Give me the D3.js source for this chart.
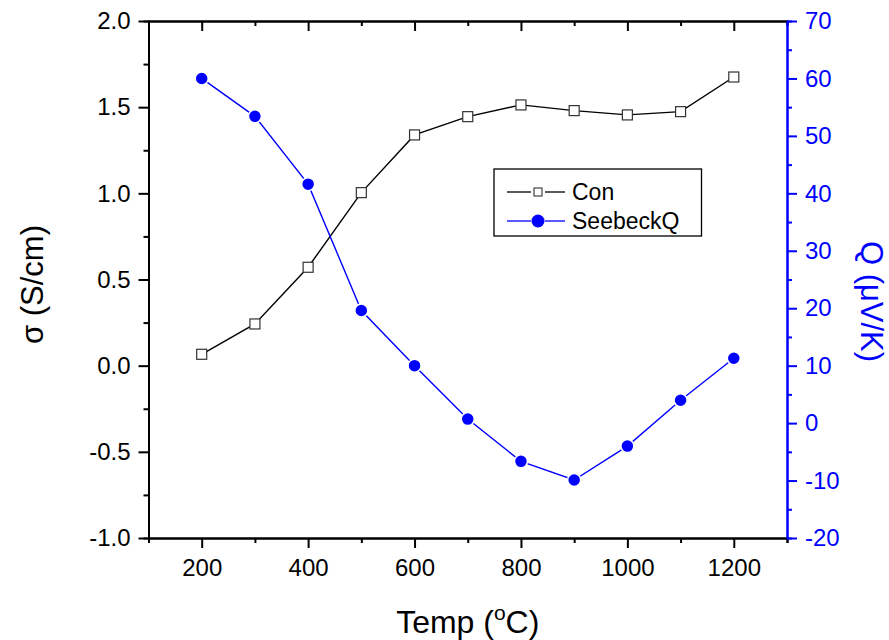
<!DOCTYPE html>
<html>
<head>
<meta charset="utf-8">
<script src="https://cdn.jsdelivr.net/npm/d3@7"></script>
<style>
  html, body { margin: 0; padding: 0; background: #fff; }
  svg { display: block; font-family: "Liberation Sans", Arial, sans-serif; }
</style>
</head>
<body>
<svg id="chart" width="889" height="640"></svg>
<script>
// Temperature points (°C)
const temps = [200, 300, 400, 500, 600, 700, 800, 900, 1000, 1100, 1200];
// Electrical conductivity σ (S/cm)
const conValues = [0.066, 0.242, 0.571, 1.004, 1.339, 1.445, 1.513, 1.480, 1.455, 1.474, 1.675];
// Seebeck coefficient Q (µV/K)
const seebeckValues = [60.0, 53.4, 41.6, 19.6, 10.0, 0.7, -6.65, -9.9, -4.0, 3.97, 11.3];

const xMajorTicks = [200, 400, 600, 800, 1000, 1200];
const xMinorTicks = [100, 300, 500, 700, 900, 1100, 1300];
const yLeftMajor = [-1.0, -0.5, 0.0, 0.5, 1.0, 1.5, 2.0];
const yLeftMinor = [-0.75, -0.25, 0.25, 0.75, 1.25, 1.75];
const yRightMajor = [-20, -10, 0, 10, 20, 30, 40, 50, 60, 70];
const yRightMinor = [-15, -5, 5, 15, 25, 35, 45, 55, 65];

const BLUE = "#0000ff";
const svg = d3.select("#chart");
const m = { left: 148.5, right: 787, top: 21, bottom: 538 };

const x = d3.scaleLinear().domain([100, 1300]).range([m.left, m.right]);
const yL = d3.scaleLinear().domain([-1, 2]).range([m.bottom, m.top]);
const yR = d3.scaleLinear().domain([-20, 70]).range([m.bottom, m.top]);

const tickFont = 24;
const axisStroke = 2;

function styleAxis(g, color) {
  g.select(".domain").attr("stroke", color).attr("stroke-width", axisStroke);
  g.selectAll(".tick line").attr("stroke", color).attr("stroke-width", axisStroke);
  g.selectAll(".tick text").attr("fill", color).attr("font-size", tickFont)
    .attr("font-family", "Liberation Sans, Arial, sans-serif");
}

// Bottom axis
const gxMinor = svg.append("g").attr("transform", `translate(0,${m.bottom})`)
  .call(d3.axisBottom(x).tickValues(xMinorTicks).tickSize(5).tickFormat(""));
styleAxis(gxMinor, "#000");
const gx = svg.append("g").attr("transform", `translate(0,${m.bottom})`)
  .call(d3.axisBottom(x).tickValues(xMajorTicks).tickSize(10).tickSizeOuter(0).tickPadding(11).tickFormat(d3.format("d")));
styleAxis(gx, "#000");

// Top axis (ticks pointing inward)
const gtMinor = svg.append("g").attr("transform", `translate(0,${m.top})`)
  .call(d3.axisTop(x).tickValues(xMinorTicks).tickSize(-5).tickFormat(""));
styleAxis(gtMinor, "#000");
const gt = svg.append("g").attr("transform", `translate(0,${m.top})`)
  .call(d3.axisTop(x).tickValues(xMajorTicks).tickSize(-10).tickSizeOuter(0).tickFormat(""));
styleAxis(gt, "#000");

// Left axis
const glMinor = svg.append("g").attr("transform", `translate(${m.left},0)`)
  .call(d3.axisLeft(yL).tickValues(yLeftMinor).tickSize(5).tickFormat(""));
styleAxis(glMinor, "#000");
const gl = svg.append("g").attr("transform", `translate(${m.left},0)`)
  .call(d3.axisLeft(yL).tickValues(yLeftMajor).tickSize(10).tickSizeOuter(0).tickPadding(8).tickFormat(d3.format(".1f")));
styleAxis(gl, "#000");
gl.selectAll(".tick text").text(d => d3.format(".1f")(d).replace("−", "-"));

// Right axis (blue)
const grMinor = svg.append("g").attr("transform", `translate(${m.right},0)`)
  .call(d3.axisRight(yR).tickValues(yRightMinor).tickSize(5).tickFormat(""));
styleAxis(grMinor, BLUE);
const gr = svg.append("g").attr("transform", `translate(${m.right},0)`)
  .call(d3.axisRight(yR).tickValues(yRightMajor).tickSize(10).tickSizeOuter(0).tickPadding(8).tickFormat(d3.format("d")));
styleAxis(gr, BLUE);
gr.selectAll(".tick text").text(d => String(d));

// Axis titles
const xTitle = svg.append("text")
  .attr("x", (m.left + m.right) / 2).attr("y", 633)
  .attr("text-anchor", "middle").attr("font-size", 32);
xTitle.append("tspan").text("Temp (");
xTitle.append("tspan").attr("dy", -13).attr("font-size", 21).text("o");
xTitle.append("tspan").attr("dy", 13).text("C)");

svg.append("text")
  .attr("transform", `translate(43,${(m.top + m.bottom) / 2 + 5}) rotate(-90)`)
  .attr("text-anchor", "middle").attr("font-size", 31)
  .text("σ (S/cm)");

svg.append("text")
  .attr("transform", `translate(861,${(m.top + m.bottom) / 2 + 22}) rotate(90)`)
  .attr("text-anchor", "middle").attr("font-size", 31).attr("fill", BLUE)
  .text("Q (μV/K)");

// Series
const conData = temps.map((t, i) => ({ t, v: conValues[i] }));
const seeData = temps.map((t, i) => ({ t, v: seebeckValues[i] }));

svg.append("path").datum(conData)
  .attr("fill", "none").attr("stroke", "#000").attr("stroke-width", 1.4)
  .attr("d", d3.line().x(d => x(d.t)).y(d => yL(d.v)));

svg.append("path").datum(seeData)
  .attr("fill", "none").attr("stroke", BLUE).attr("stroke-width", 1.4)
  .attr("d", d3.line().x(d => x(d.t)).y(d => yR(d.v)));

svg.append("g").selectAll("rect").data(conData).join("rect")
  .attr("x", d => x(d.t) - 5).attr("y", d => yL(d.v) - 5)
  .attr("width", 10).attr("height", 10)
  .attr("fill", "#fff").attr("stroke", "#333").attr("stroke-width", 1.2);

svg.append("g").selectAll("circle").data(seeData).join("circle")
  .attr("cx", d => x(d.t)).attr("cy", d => yR(d.v)).attr("r", 6.5)
  .attr("fill", BLUE).attr("stroke", "#fff").attr("stroke-width", 1.5);

// Legend
const lg = svg.append("g");
lg.append("rect").attr("x", 494).attr("y", 169).attr("width", 207.5).attr("height", 67)
  .attr("fill", "#fff").attr("stroke", "#000").attr("stroke-width", 1.3);
const legendItems = [
  { name: "Con", color: "#000", y: 192, marker: "square" },
  { name: "SeebeckQ", color: BLUE, y: 221, marker: "circle" }
];
legendItems.forEach(it => {
  lg.append("line").attr("x1", 507).attr("x2", 531).attr("y1", it.y).attr("y2", it.y)
    .attr("stroke", it.color).attr("stroke-width", 1.3);
  lg.append("line").attr("x1", 545).attr("x2", 565).attr("y1", it.y).attr("y2", it.y)
    .attr("stroke", it.color).attr("stroke-width", 1.3);
  if (it.marker === "square") {
    lg.append("rect").attr("x", 534).attr("y", it.y - 4).attr("width", 8).attr("height", 8)
      .attr("fill", "#fff").attr("stroke", "#333").attr("stroke-width", 1.1);
  } else {
    lg.append("circle").attr("cx", 538).attr("cy", it.y).attr("r", 6.5).attr("fill", BLUE);
  }
  lg.append("text").attr("x", 572).attr("y", it.y + 8).attr("font-size", 23)
    .attr("fill", "#000").text(it.name);
});
</script>
</body>
</html>
